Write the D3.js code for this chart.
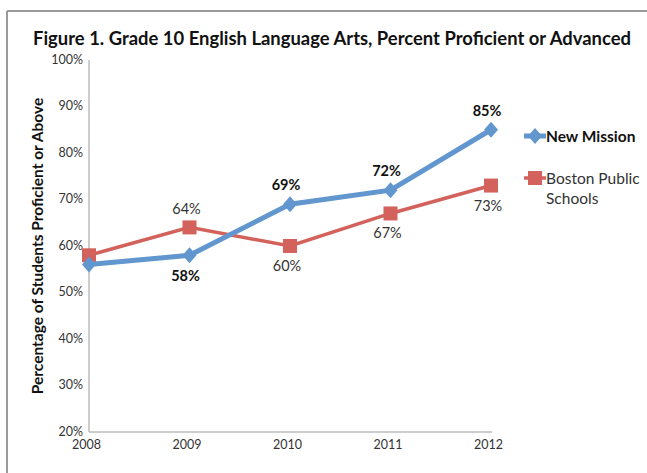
<!DOCTYPE html>
<html>
<head>
<meta charset="utf-8">
<script src="https://cdn.jsdelivr.net/npm/d3@7"></script>
<style>
  body { margin: 0; background: #fff; }
  text { font-family: Lato, "Open Sans", sans-serif; }
</style>
</head>
<body>
<svg id="chart" width="647" height="473"></svg>
<script>
const years = ["2008", "2009", "2010", "2011", "2012"];
const newMission = [56, 58, 69, 72, 85];
const boston = [58, 64, 60, 67, 73];
const yTicks = [20, 30, 40, 50, 60, 70, 80, 90, 100];
// which points carry a label, and on which side
const nmLabelPos = [null, "below", "above", "above", "above"];
const bpsLabelPos = [null, "above", "below", "below", "below"];

const BLUE = "#6196CE";
const RED = "#D2625B";

const svg = d3.select("#chart");

// frame
svg.append("line").attr("x1", 7).attr("y1", 11).attr("x2", 647).attr("y2", 11)
  .attr("stroke", "#9a9a9a").attr("stroke-width", 2);
svg.append("line").attr("x1", 7).attr("y1", 11).attr("x2", 7).attr("y2", 473)
  .attr("stroke", "#9a9a9a").attr("stroke-width", 2);

svg.append("text")
  .attr("x", 33).attr("y", 45)
  .attr("font-size", 18).attr("font-weight", "bold").attr("fill", "#111")
  .attr("textLength", 598).attr("lengthAdjust", "spacingAndGlyphs")
  .text("Figure 1. Grade 10 English Language Arts, Percent Proficient or Advanced");

const x = d3.scalePoint().domain(years).range([89, 491]);
const y = d3.scaleLinear().domain([20, 100]).range([432, 60]);

// axes
const yAxis = svg.append("g").attr("transform", "translate(89,0)")
  .call(d3.axisLeft(y).tickValues(yTicks).tickSize(0).tickPadding(6).tickFormat(d => d + "%"));
const xAxis = svg.append("g").attr("transform", "translate(0,432)")
  .call(d3.axisBottom(x).tickSize(0).tickPadding(6));
[yAxis, xAxis].forEach(g => {
  g.select(".domain").attr("stroke", "#bdbdbd").attr("stroke-width", 1.5);
  g.selectAll("text").attr("font-size", 12.5).attr("fill", "#333")
    .attr("font-family", "Lato, 'Open Sans', sans-serif");
});
yAxis.select(".domain").attr("d", "M0,60V432");
xAxis.select(".domain").attr("d", "M89,0H492");
xAxis.selectAll(".tick text").attr("dx", -3).attr("dy", "0.85em");
yAxis.selectAll(".tick text").attr("dy", "0.25em");

svg.append("text")
  .attr("transform", "translate(43,246) rotate(-90)")
  .attr("text-anchor", "middle")
  .attr("font-size", 15.5).attr("font-weight", "bold").attr("fill", "#111")
  .text("Percentage of Students Proficient or Above");

const line = d3.line().x((d, i) => x(years[i])).y(d => y(d));

// Boston series
svg.append("path").datum(boston).attr("d", line)
  .attr("fill", "none").attr("stroke", RED).attr("stroke-width", 3.5);
svg.selectAll(".sq").data(boston).join("rect")
  .attr("x", (d, i) => x(years[i]) - 7).attr("y", d => y(d) - 7)
  .attr("width", 14).attr("height", 14).attr("fill", RED);

// New Mission series
svg.append("path").datum(newMission).attr("d", line)
  .attr("fill", "none").attr("stroke", BLUE).attr("stroke-width", 5);
const diamond = "M0,-8L7,0L0,8L-7,0Z";
svg.selectAll(".dm").data(newMission).join("path")
  .attr("transform", (d, i) => `translate(${x(years[i])},${y(d)})`)
  .attr("d", diamond).attr("fill", BLUE);

// data labels
const labelData = (vals, pos) => vals
  .map((v, i) => ({ year: years[i], v, pos: pos[i] }))
  .filter(d => d.pos);

svg.selectAll(".nml").data(labelData(newMission, nmLabelPos)).join("text")
  .attr("x", d => x(d.year) - 4)
  .attr("y", d => d.pos === "above" ? y(d.v) - 14 : y(d.v) + 26)
  .attr("text-anchor", "middle").attr("font-size", 14.5).attr("font-weight", "bold")
  .attr("fill", "#111").text(d => d.v + "%");
svg.selectAll(".bpl").data(labelData(boston, bpsLabelPos)).join("text")
  .attr("x", d => x(d.year) - 3)
  .attr("y", d => d.pos === "above" ? y(d.v) - 13 : y(d.v) + 25)
  .attr("text-anchor", "middle").attr("font-size", 14.5)
  .attr("fill", "#333").text(d => d.v + "%");

// legend
const lg = svg.append("g");
lg.append("line").attr("x1", 524).attr("x2", 546).attr("y1", 136).attr("y2", 136)
  .attr("stroke", BLUE).attr("stroke-width", 5);
lg.append("path").attr("transform", "translate(535,136)").attr("d", diamond).attr("fill", BLUE);
lg.append("text").attr("x", 546).attr("y", 142).attr("font-size", 15.5).attr("font-weight", "bold")
  .attr("fill", "#111").text("New Mission");
lg.append("line").attr("x1", 524).attr("x2", 546).attr("y1", 178).attr("y2", 178)
  .attr("stroke", RED).attr("stroke-width", 3.5);
lg.append("rect").attr("x", 528).attr("y", 171).attr("width", 14).attr("height", 14).attr("fill", RED);
lg.append("text").attr("x", 546).attr("y", 184).attr("font-size", 15.5).attr("fill", "#333")
  .text("Boston Public");
lg.append("text").attr("x", 546).attr("y", 204).attr("font-size", 15.5).attr("fill", "#333")
  .text("Schools");
</script>
</body>
</html>
